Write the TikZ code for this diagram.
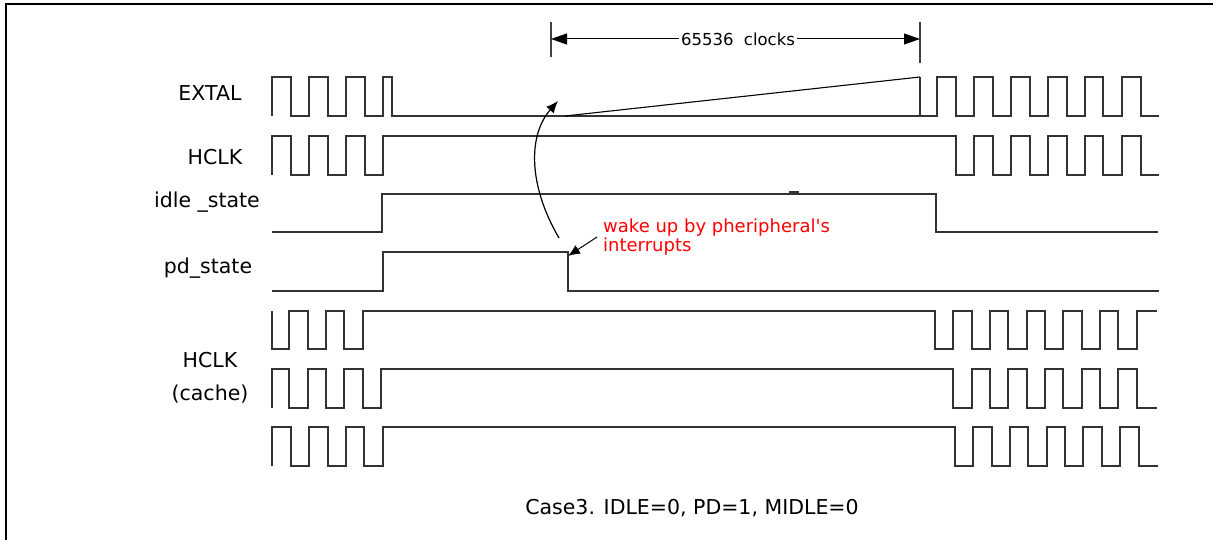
\documentclass[tikz,border=0pt]{standalone}
\usepackage{fontspec}
\setmainfont{DejaVu Sans}
\usetikzlibrary{arrows.meta}
\begin{document}
\begin{tikzpicture}[x=1pt,y=-1pt,
  wave/.style={line width=1.3pt,black!80,line join=miter},
  lbl/.style={font=\fontsize{20.5}{33}\selectfont,inner sep=0pt,align=center},
  redlbl/.style={font=\fontsize{18}{18.5}\selectfont,text=red,inner sep=0pt,align=left,anchor=west},
  dimtick/.style={line width=1.1pt,black!75}]
\useasboundingbox (0,0) rectangle (1213,540);
% frame
\draw[line width=2pt] (5.5,540) -- (5.5,4) -- (1213,4);
% labels
\node[lbl] (lextal) at (210,93) {EXTAL};
\node[lbl] (lhclk) at (215,157) {HCLK};
\node[lbl] (lidle) at (207,202) {idle \_state};
\node[lbl] (lpd) at (208,268) {pd\_state};
\node[lbl] (lcache) at (210,378) {HCLK\\(cache)};
\node[lbl] (caption) at (692,508) {Case3. IDLE=0, PD=1, MIDLE=0};
% EXTAL
\draw[wave] (272,116)--(272,77)--(291,77)--(291,116)--(309,116)--(309,77)--(328,77)--(328,116)--(346,116)--(346,77)--(365,77)--(365,116)--(383,116)--(383,77)--(392,77)--(392,116)--(937,116)--(937,77)--(956,77)--(956,116)--(974,116)--(974,77)--(993,77)--(993,116)--(1011,116)--(1011,77)--(1030,77)--(1030,116)--(1048,116)--(1048,77)--(1067,77)--(1067,116)--(1085,116)--(1085,77)--(1103,77)--(1103,116)--(1122,116)--(1122,77)--(1141,77)--(1141,116)--(1159,116);
\draw[wave] (920,116)--(920,77);
\draw[line width=1.1pt] (565,116)--(920,77);
% HCLK
\draw[wave] (272,175)--(272,136)--(291,136)--(291,175)--(309,175)--(309,136)--(328,136)--(328,175)--(346,175)--(346,136)--(365,136)--(365,175)--(383,175)--(383,136)--(956,136)--(956,175)--(974,175)--(974,136)--(993,136)--(993,175)--(1011,175)--(1011,136)--(1030,136)--(1030,175)--(1048,175)--(1048,136)--(1067,136)--(1067,175)--(1085,175)--(1085,136)--(1103,136)--(1103,175)--(1122,175)--(1122,136)--(1141,136)--(1141,175)--(1159,175);
% idle_state
\draw[wave] (272,232)--(382,232)--(382,194)--(936,194)--(936,232)--(1158,232);
\draw[line width=2pt,black!80] (789,192.5)--(799,192.5);
% pd_state
\draw[wave] (272,291)--(383,291)--(383,252)--(568,252)--(568,291)--(1159,291);
% row A
\draw[wave] (272,311)--(272,349)--(289,349)--(289,311)--(308,311)--(308,349)--(326,349)--(326,311)--(344,311)--(344,349)--(363,349)--(363,311)--(935,311)--(935,349)--(953,349)--(953,311)--(972,311)--(972,349)--(990,349)--(990,311)--(1008,311)--(1008,349)--(1027,349)--(1027,311)--(1045,311)--(1045,349)--(1063,349)--(1063,311)--(1082,311)--(1082,349)--(1100,349)--(1100,311)--(1118,311)--(1118,349)--(1137,349)--(1137,311)--(1157,311);
% row B
\draw[wave] (272,408)--(272,369)--(289,369)--(289,408)--(308,408)--(308,369)--(326,369)--(326,408)--(344,408)--(344,369)--(363,369)--(363,408)--(381,408)--(381,369)--(953,369)--(953,408)--(972,408)--(972,369)--(990,369)--(990,408)--(1008,408)--(1008,369)--(1027,369)--(1027,408)--(1045,408)--(1045,369)--(1063,369)--(1063,408)--(1082,408)--(1082,369)--(1100,369)--(1100,408)--(1118,408)--(1118,369)--(1137,369)--(1137,408)--(1157,408);
% row C
\draw[wave] (272,466)--(272,427)--(291,427)--(291,466)--(309,466)--(309,427)--(328,427)--(328,466)--(346,466)--(346,427)--(364,427)--(364,466)--(383,466)--(383,427)--(955,427)--(955,466)--(973,466)--(973,427)--(992,427)--(992,466)--(1010,466)--(1010,427)--(1028,427)--(1028,466)--(1047,466)--(1047,427)--(1065,427)--(1065,466)--(1083,466)--(1083,427)--(1102,427)--(1102,466)--(1120,466)--(1120,427)--(1139,427)--(1139,466)--(1158,466);
% dimension
\coordinate (dl) at (551,39);
\coordinate (dr) at (920,39);
\draw[dimtick] (551,22)--(551,57);
\draw[dimtick] (920,22)--(920,63);
\node[font=\fontsize{16.5}{19}\selectfont,inner sep=2pt] (dimtxt) at (738,39) {65536\ \ clocks};
\draw[line width=1pt,-{Triangle[length=16pt,width=11pt]}] (dimtxt.west) -- (dl);
\draw[line width=1pt,-{Triangle[length=16pt,width=11pt]}] (dimtxt.east) -- (dr);
% wake-up annotation
\node[redlbl] (wake) at (603,237) {wake up by pheripheral\textquotesingle s\\interrupts};
\coordinate (curvestart) at (559,238);
\coordinate (curveend) at (558,101);
\draw[line width=1.2pt,-{Latex[length=12pt,width=10pt]}] (curvestart) .. controls (528,185) and (528,135) .. (curveend);
\coordinate (smallstart) at (597,237);
\coordinate (pdfall) at (568,256);
\draw[line width=1pt,-{Latex[length=12pt,width=10pt]}] (smallstart) -- (pdfall);
\end{tikzpicture}
\end{document}
